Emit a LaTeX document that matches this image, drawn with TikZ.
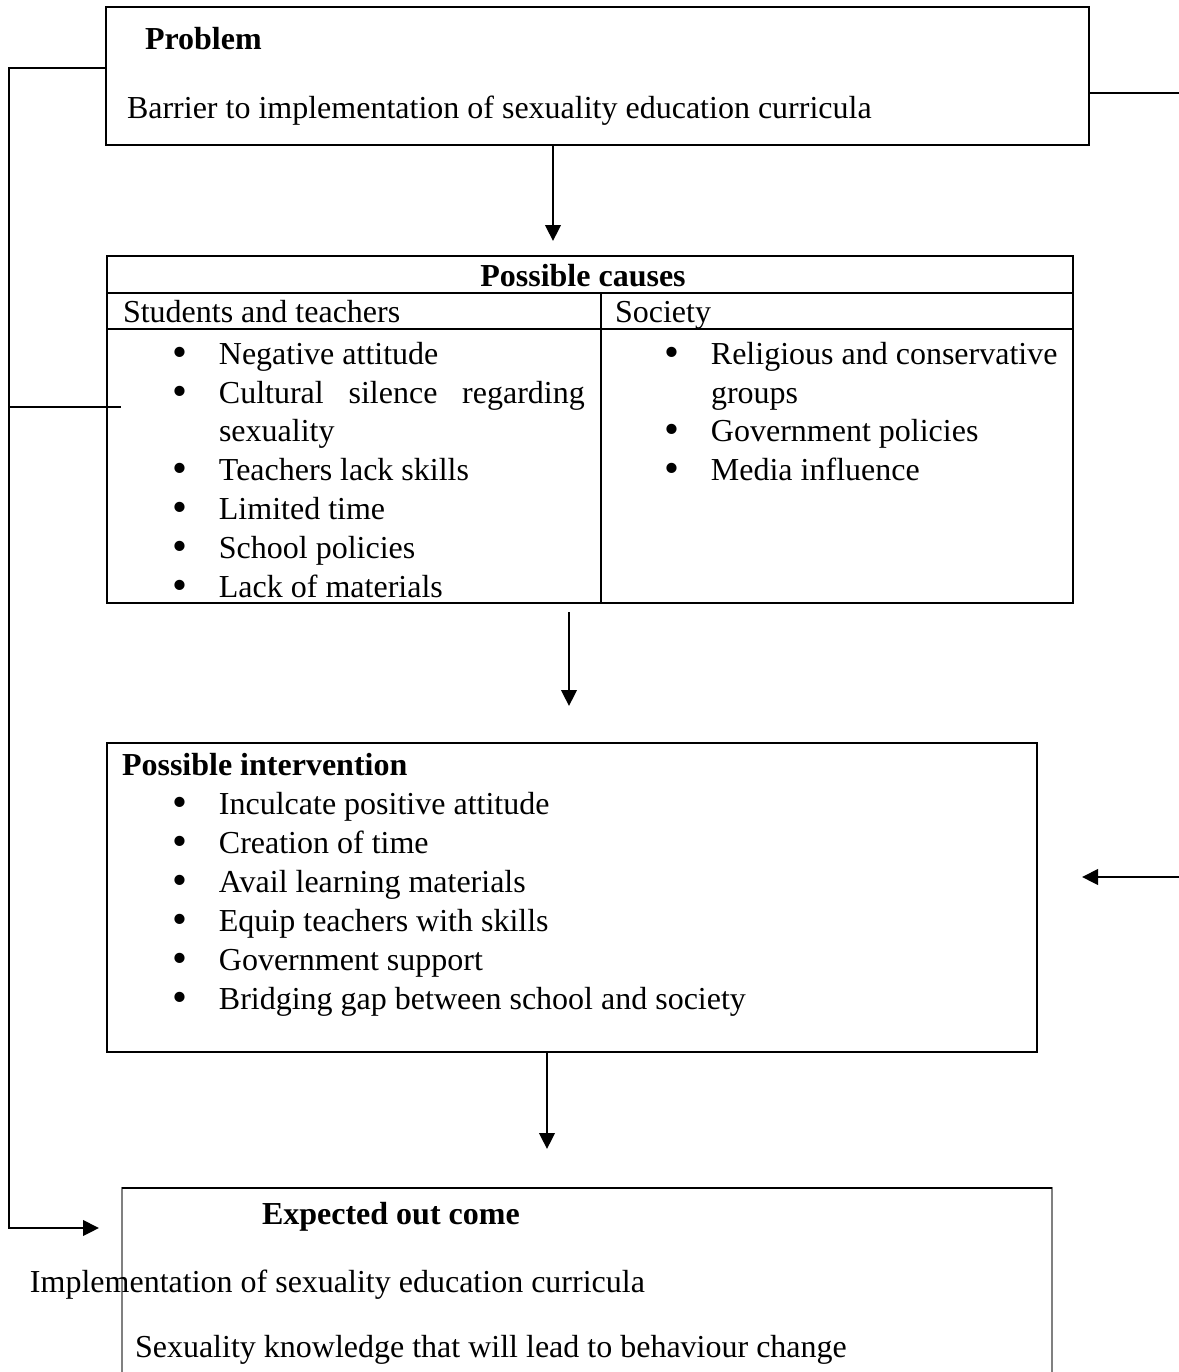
\documentclass[tikz,border=0pt]{standalone}
\usepackage{fontspec}
\setmainfont{Liberation Serif}
\usetikzlibrary{arrows.meta}
\tikzset{
  box/.style={draw, line width=0.8pt, inner sep=0pt, outer sep=0pt},
  tbl/.style={line width=0.7pt},
  txt/.style={anchor=base west, inner sep=0pt, outer sep=0pt, font=\fontsize{12}{14}\selectfont},
  btxt/.style={txt, font=\fontsize{12}{14}\selectfont\bfseries},
  conn/.style={line width=0.9pt},
  thinconn/.style={line width=0.45pt},
  arr/.style={conn, -{Triangle[length=6pt,width=5.8pt]}},
}
\newcommand\bul[1]{\hbox to 17.6pt{\raisebox{-1.1pt}{\fontsize{16}{16}\selectfont\textbullet}\hss}#1}
\begin{document}
\begin{tikzpicture}[x=0.375pt,y=-0.375pt]
\useasboundingbox (0,0) rectangle (1179,1372);
% boxes
\node[box, minimum width=368.625pt, minimum height=51.75pt] (prob) at (597.5,76) {};
\node[box, line width=0.7pt, minimum width=362.25pt, minimum height=130.125pt] (causes) at (590,429.5) {};
\node[box, minimum width=348.75pt, minimum height=115.875pt] (interv) at (572,897.5) {};
\node[draw=gray, line width=0.45pt, inner sep=0pt, outer sep=0pt, minimum width=348.75pt, minimum height=79.5pt] (outc) at (587,1294) {};
\draw[line width=0.5pt] (outc.north west) -- (outc.north east);

% table rules
\coordinate (h1) at (0,293);
\coordinate (h2) at (0,329);
\coordinate (col) at (601,0);
\draw[tbl] (causes.west |- h1) -- (causes.east |- h1);
\draw[tbl] (causes.west |- h2) -- (causes.east |- h2);
\draw[tbl] (col |- h1) -- (col |- causes.south);

% problem texts
\node[btxt] (tProb) at (145,49) {Problem};
\node[txt] (tBarrier) at (127,118) {Barrier to implementation of sexuality education curricula};

% causes texts
\node[btxt, anchor=base] (tCauses) at (583,286) {Possible causes};
\node[txt] (tStud) at (123,322) {Students and teachers};
\node[txt] (tSoc) at (615,322) {Society};
\node[txt] (c1) at (172,364) {\bul{Negative attitude}};
\node[txt] (c2) at (172,403) {\bul{\hbox to 137.2pt{Cultural\hfill silence\hfill regarding}}};
\node[txt] (c3) at (219,441) {sexuality};
\node[txt] (c4) at (172,480) {\bul{Teachers lack skills}};
\node[txt] (c5) at (172,519) {\bul{Limited time}};
\node[txt] (c6) at (172,558) {\bul{School policies}};
\node[txt] (c7) at (172,597) {\bul{Lack of materials}};
\node[txt] (s1) at (664,364) {\bul{Religious and conservative}};
\node[txt] (s2) at (711,403) {groups};
\node[txt] (s3) at (664,441) {\bul{Government policies}};
\node[txt] (s4) at (664,480) {\bul{Media influence}};

% intervention texts
\node[btxt] (tInt) at (122,775) {Possible intervention};
\node[txt] (i1) at (172,814) {\bul{Inculcate positive attitude}};
\node[txt] (i2) at (172,853) {\bul{Creation of time}};
\node[txt] (i3) at (172,892) {\bul{Avail learning materials}};
\node[txt] (i4) at (172,931) {\bul{Equip teachers with skills}};
\node[txt] (i5) at (172,970) {\bul{Government support}};
\node[txt] (i6) at (172,1009) {\bul{Bridging gap between school and society}};

% outcome texts
\node[btxt] (tExp) at (262,1224) {Expected out come};
\node[txt] (o1) at (30,1292) {Implementation of sexuality education curricula};
\node[txt] (o2) at (135,1357) {Sexuality knowledge that will lead to behaviour change};

% connectors
\coordinate (lA) at (9,68);
\coordinate (lB) at (9,1228);
\coordinate (lEnd) at (99,1228);
\draw[arr] (prob.west |- lA) -- (lA) -- (lB) -- (lEnd);
\coordinate (side) at (121,407);
\draw[thinconn] (lA |- side) -- (side);
\coordinate (rA) at (1179,93);
\draw[conn] (prob.east |- rA) -- (rA);
\coordinate (rB) at (1179,877);
\coordinate (rBend) at (1082,877);
\draw[arr] (rB) -- (rBend);
\coordinate (a1) at (553,241);
\draw[arr] (prob.south -| a1) -- (a1);
\coordinate (a2s) at (569,612);
\coordinate (a2) at (569,706);
\draw[arr] (a2s) -- (a2);
\coordinate (a3) at (547,1149);
\draw[arr] (interv.south -| a3) -- (a3);
\end{tikzpicture}
\end{document}
